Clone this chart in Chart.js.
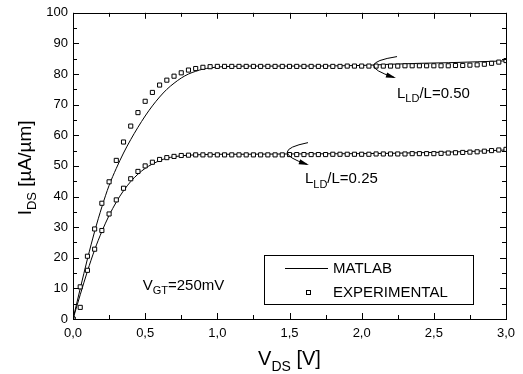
<!DOCTYPE html>
<html>
<head>
<meta charset="utf-8">
<script src="https://cdn.jsdelivr.net/npm/chart.js@4/dist/chart.umd.min.js"></script>
<style>
  html, body { margin: 0; padding: 0; background: #fff; }
</style>
</head>
<body>
<canvas id="ivChart" width="523" height="374"></canvas>
<script>
// measured points, every 0.05 V
const vds = [0,0.05,0.1,0.15,0.2,0.25,0.3,0.35,0.4,0.45,0.5,0.55,0.6,0.65,0.7,0.75,0.8,0.85,0.9,0.95,
  1.0,1.05,1.1,1.15,1.2,1.25,1.3,1.35,1.4,1.45,1.5,1.55,1.6,1.65,1.7,1.75,1.8,1.85,1.9,1.95,
  2.0,2.05,2.1,2.15,2.2,2.25,2.3,2.35,2.4,2.45,2.5,2.55,2.6,2.65,2.7,2.75,2.8,2.85,2.9,2.95,3.0];
const expHigh = [0,10.5,20.5,29.4,37.8,44.8,51.8,57.8,63.0,67.4,71.1,74.0,76.4,78.0,79.3,80.4,81.3,81.8,82.2,82.4,
  82.5,82.5,82.5,82.5,82.5,82.5,82.5,82.5,82.5,82.5,82.5,82.5,82.5,82.5,82.5,82.5,82.5,82.5,82.6,82.6,
  82.6,82.6,82.6,82.6,82.6,82.6,82.7,82.7,82.7,82.7,82.7,82.7,82.7,82.8,82.8,82.9,83.0,83.2,83.5,83.9,84.4];
const expLow = [0,3.8,15.9,22.8,28.9,34.3,38.9,42.7,45.8,48.2,50.0,51.2,52.1,52.7,53.1,53.4,53.5,53.6,53.6,53.6,
  53.6,53.6,53.6,53.6,53.6,53.6,53.6,53.6,53.6,53.6,53.7,53.7,53.7,53.7,53.7,53.7,53.8,53.8,53.8,53.8,
  53.8,53.8,53.9,53.9,53.9,53.9,53.9,54.0,54.0,54.0,54.0,54.1,54.2,54.3,54.4,54.5,54.6,54.8,55.0,55.2,55.4];

// MATLAB model curves
const simV    = [0,0.05,0.1,0.15,0.2,0.25,0.3,0.35,0.4,0.45,0.5,0.55,0.6,0.65,0.7,0.75,0.8,0.85,0.9,0.95,1.0,1.1,1.2,1.5,2.0,2.2,2.4,2.6,2.8,3.0];
const simHigh = [0,9.9,19.6,28.6,36.6,43.6,49.2,54.2,58.6,62.6,66.3,69.6,72.5,75.0,77.0,78.7,80.0,80.9,81.6,82.0,82.3,82.5,82.6,82.6,82.8,83.2,83.5,83.7,84.0,84.3];
const simLow  = [0,7.9,15.6,22.6,28.6,33.8,38.2,41.9,44.9,47.3,49.2,50.6,51.7,52.5,53.0,53.3,53.5,53.6,53.7,53.7,53.8,53.8,53.8,53.9,54.0,54.1,54.3,54.5,54.8,55.2];

const seriesNames = ['MATLAB', 'EXPERIMENTAL'];

const FONT = '"Liberation Sans", Arial, Helvetica, sans-serif';

const pts = (xs, ys) => xs.map((x, i) => ({ x: x, y: ys[i] }));

// draw text with subscripts: parts = [[text, isSub], ...]
function partsWidth(ctx, parts, size) {
    let w = 0;
    parts.forEach(p => {
        ctx.font = (p[1] ? Math.round(size * 0.7) : size) + 'px ' + FONT;
        w += ctx.measureText(p[0]).width;
    });
    return w;
}
function drawParts(ctx, parts, x, y, size) {
    let cx = x;
    parts.forEach(p => {
        const s = p[1] ? Math.round(size * 0.7) : size;
        ctx.font = s + 'px ' + FONT;
        ctx.fillText(p[0], cx, p[1] ? y + size * 0.28 : y);
        cx += ctx.measureText(p[0]).width;
    });
}

function arrow(ctx, p0, p1, p2) {
    ctx.beginPath();
    ctx.moveTo(p0[0], p0[1]);
    ctx.quadraticCurveTo(p1[0], p1[1], p2[0], p2[1]);
    ctx.stroke();
    const a = Math.atan2(p2[1] - p1[1], p2[0] - p1[0]);
    const L = 8, W = 2.6;
    ctx.beginPath();
    ctx.moveTo(p2[0] + Math.cos(a) * 2, p2[1] + Math.sin(a) * 2);
    ctx.lineTo(p2[0] - Math.cos(a) * L + Math.sin(a) * W, p2[1] - Math.sin(a) * L - Math.cos(a) * W);
    ctx.lineTo(p2[0] - Math.cos(a) * L - Math.sin(a) * W, p2[1] - Math.sin(a) * L + Math.cos(a) * W);
    ctx.closePath();
    ctx.fill();
}

const decorations = {
    id: 'decorations',
    afterDraw(chart) {
        const ctx = chart.ctx;
        const { left, right, top, bottom } = chart.chartArea;
        const xs = chart.scales.x, ys = chart.scales.y;
        const px = v => xs.getPixelForValue(v), py = v => ys.getPixelForValue(v);
        ctx.save();
        ctx.strokeStyle = '#000';
        ctx.fillStyle = '#000';
        ctx.lineWidth = 1;

        // frame
        ctx.strokeRect(Math.round(left) + 0.5, Math.round(top) + 0.5, Math.round(right - left), Math.round(bottom - top));

        // inward ticks on all four sides
        ctx.beginPath();
        const xt = xs.ticks.map(t => t.value);
        for (let i = 0; i < xt.length; i++) {
            const marks = [[xt[i], 6]];
            if (i < xt.length - 1) marks.push([(xt[i] + xt[i + 1]) / 2, 4]);
            marks.forEach(m => {
                const x = Math.round(px(m[0])) + 0.5;
                ctx.moveTo(x, bottom); ctx.lineTo(x, bottom - m[1]);
                ctx.moveTo(x, top); ctx.lineTo(x, top + m[1]);
            });
        }
        const yt = ys.ticks.map(t => t.value);
        for (let i = 0; i < yt.length; i++) {
            const marks = [[yt[i], 6]];
            if (i < yt.length - 1) marks.push([(yt[i] + yt[i + 1]) / 2, 4]);
            marks.forEach(m => {
                const y = Math.round(py(m[0])) + 0.5;
                ctx.moveTo(left, y); ctx.lineTo(left + m[1], y);
                ctx.moveTo(right, y); ctx.lineTo(right - m[1], y);
            });
        }
        ctx.stroke();

        // axis titles
        ctx.textBaseline = 'alphabetic';
        ctx.textAlign = 'left';
        const xTitle = [['V', 0], ['DS', 1], [' [V]', 0]];
        const xw = partsWidth(ctx, xTitle, 20);
        drawParts(ctx, xTitle, (left + right) / 2 - xw / 2, 365, 20);

        const yTitle = [['I', 0], ['DS', 1], [' [\u00b5A/\u00b5m]', 0]];
        const yw = partsWidth(ctx, yTitle, 19);
        ctx.save();
        ctx.translate(31, (top + bottom) / 2 + 2);
        ctx.rotate(-Math.PI / 2);
        drawParts(ctx, yTitle, -yw / 2, 0, 19);
        ctx.restore();

        // curve labels
        drawParts(ctx, [['L', 0], ['LD', 1], ['/L=0.50', 0]], px(2.245), py(72.2), 15);
        drawParts(ctx, [['L', 0], ['LD', 1], ['/L=0.25', 0]], px(1.607), py(44.3), 15);
        drawParts(ctx, [['V', 0], ['GT', 1], ['=250mV', 0]], px(0.483), py(9.6), 15);

        // curved arrows
        arrow(ctx, [px(2.245), py(85.7)], [px(1.933), py(83.4)], [px(2.224), py(78.9)]);
        arrow(ctx, [px(1.628), py(57.6)], [px(1.344), py(54.9)], [px(1.621), py(50.5)]);

        // legend box
        ctx.fillStyle = '#fff';
        ctx.fillRect(264.5, 255.5, 209, 49);
        ctx.fillStyle = '#000';
        ctx.strokeRect(264.5, 255.5, 209, 49);
        ctx.beginPath();
        ctx.moveTo(285, 268.5); ctx.lineTo(328, 268.5);
        ctx.stroke();
        ctx.strokeRect(306.5, 290.5, 4, 4);
        ctx.font = '15px ' + FONT;
        ctx.textBaseline = 'middle';
        ctx.fillText(seriesNames[0], 333, 269);
        ctx.fillText(seriesNames[1], 333, 293);
        ctx.restore();
    }
};

const lineStyle = { borderColor: '#000', borderWidth: 1, pointRadius: 0, showLine: true, fill: false, cubicInterpolationMode: 'monotone', order: 2 };
const markStyle = { borderColor: '#000', backgroundColor: '#fff', borderWidth: 1, pointStyle: 'rect', pointRadius: 2.9, showLine: false, order: 1 };

new Chart(document.getElementById('ivChart'), {
    type: 'scatter',
    data: {
        datasets: [
            Object.assign({ label: seriesNames[0] + ' 0.50', data: pts(simV, simHigh) }, lineStyle),
            Object.assign({ label: seriesNames[0] + ' 0.25', data: pts(simV, simLow) }, lineStyle),
            Object.assign({ label: seriesNames[1] + ' 0.50', data: pts(vds, expHigh) }, markStyle),
            Object.assign({ label: seriesNames[1] + ' 0.25', data: pts(vds, expLow) }, markStyle)
        ]
    },
    options: {
        responsive: false,
        animation: false,
        devicePixelRatio: 1,
        layout: { padding: { top: 11, right: 17, left: 0, bottom: 0 } },
        plugins: { legend: { display: false }, tooltip: { enabled: false } },
        scales: {
            x: {
                type: 'linear', min: 0, max: 3,
                afterFit: s => { s.height = 55; },
                grid: { display: false, drawTicks: false },
                border: { display: false },
                ticks: {
                    stepSize: 0.5, padding: 7, color: '#000', maxRotation: 0,
                    font: { family: FONT, size: 13 },
                    callback: v => v.toFixed(1).replace('.', ',')
                }
            },
            y: {
                min: 0, max: 100,
                afterFit: s => { s.width = 73; },
                grid: { display: false, drawTicks: false },
                border: { display: false },
                ticks: { stepSize: 10, padding: 5, color: '#000', font: { family: FONT, size: 13 } }
            }
        }
    },
    plugins: [decorations]
});
</script>
</body>
</html>
